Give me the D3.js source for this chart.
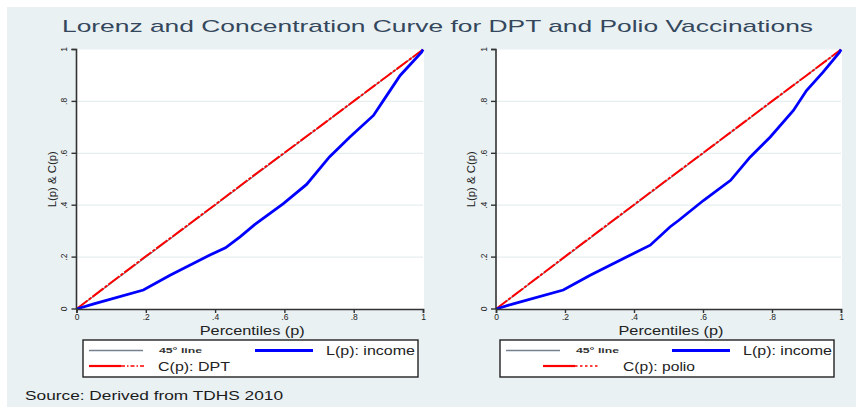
<!DOCTYPE html>
<html>
<head>
<meta charset="utf-8">
<script src="https://cdn.jsdelivr.net/npm/d3@7"></script>
<style>
  body { margin: 0; background: #fff; }
  svg { display: block; font-family: "Liberation Sans", Arial, sans-serif; }
</style>
</head>
<body>
<div id="chart"></div>
<script>
// Percentiles and curve values
const ticks = [0, 0.2, 0.4, 0.6, 0.8, 1];
const tickLabels = ["0", ".2", ".4", ".6", ".8", "1"];

const dptIncomeP = [0, 0.05, 0.193, 0.27, 0.385, 0.43, 0.472, 0.515, 0.597, 0.664, 0.73, 0.789, 0.857, 0.886, 0.934, 0.996, 1];
const dptIncomeL = [0, 0.02, 0.073, 0.13, 0.208, 0.236, 0.278, 0.326, 0.406, 0.48, 0.586, 0.663, 0.746, 0.804, 0.9, 0.99, 1];
const dptP = [0, 0.1, 0.2, 0.3, 0.4, 0.5, 0.6, 0.7, 0.8, 0.9, 1];
const dptC = [0, 0.102, 0.203, 0.302, 0.402, 0.503, 0.602, 0.701, 0.801, 0.901, 1];

const polioIncomeP = [0, 0.05, 0.195, 0.273, 0.4, 0.447, 0.505, 0.53, 0.602, 0.68, 0.737, 0.795, 0.862, 0.9, 0.948, 0.996, 1];
const polioIncomeL = [0, 0.02, 0.073, 0.13, 0.215, 0.246, 0.317, 0.342, 0.419, 0.496, 0.586, 0.663, 0.765, 0.842, 0.913, 0.99, 1];
const polioP = [0, 0.1, 0.2, 0.3, 0.4, 0.5, 0.6, 0.7, 0.8, 0.9, 1];
const polioC = [0, 0.101, 0.202, 0.302, 0.402, 0.502, 0.601, 0.701, 0.801, 0.9, 1];

const width = 856, height = 407;
const svg = d3.select('#chart').append('svg')
  .attr('width', width)
  .attr('height', height);

// graph region background
svg.append('rect')
  .attr('x', 7).attr('y', 7)
  .attr('width', width - 7).attr('height', height - 7)
  .attr('fill', '#e9f1f3');

svg.append('text')
  .attr('x', 62).attr('y', 32)
  .attr('textLength', 751)
  .attr('lengthAdjust', 'spacingAndGlyphs')
  .style('font-size', '17px')
  .style('fill', '#34475c')
  .text('Lorenz and Concentration Curve for DPT and Polio Vaccinations');

svg.append('text')
  .attr('x', 25).attr('y', 400)
  .attr('textLength', 258)
  .attr('lengthAdjust', 'spacingAndGlyphs')
  .style('font-size', '12.5px')
  .style('fill', '#1b1b1b')
  .text('Source: Derived from TDHS 2010');

function drawPanel(opts) {
  const x = d3.scaleLinear().domain([0, 1]).range([opts.x0, opts.x1]);
  const y = d3.scaleLinear().domain([0, 1]).range([309, 49.5]);
  const g = svg.append('g');

  // plot region
  g.append('rect')
    .attr('x', x(0)).attr('y', y(1))
    .attr('width', x(1) - x(0) + 1).attr('height', y(0) - y(1))
    .attr('fill', '#fff');

  // gridlines
  g.selectAll('line.grid')
    .data(ticks.slice(1, 5))
    .enter().append('line')
      .attr('x1', x(0)).attr('x2', x(1))
      .attr('y1', d => y(d)).attr('y2', d => y(d))
      .style('stroke', '#e6eef0')
      .style('stroke-width', 1.2);

  // 45 degree line
  const line = d3.line().x(d => x(d[0])).y(d => y(d[1]));
  g.append('path')
    .attr('d', line([[0, 0], [1, 1]]))
    .style('fill', 'none')
    .style('stroke', '#75818f')
    .style('stroke-width', 1.2);

  // concentration curve
  g.append('path')
    .attr('d', line(d3.zip(opts.cP, opts.cV)))
    .style('fill', 'none')
    .style('stroke', '#ff0000')
    .style('stroke-width', 2)
    .style('stroke-dasharray', '14,1.5,3,1.5');

  // lorenz curve
  g.append('path')
    .attr('d', line(d3.zip(opts.lP, opts.lV)))
    .style('fill', 'none')
    .style('stroke', '#0000ff')
    .style('stroke-width', 2.8);

  // axes
  const yAxis = d3.axisLeft(y).tickValues(ticks).tickFormat((d, i) => tickLabels[i]).tickSize(5).tickPadding(10);
  const yG = g.append('g')
    .attr('transform', `translate(${x(0)},0)`)
    .call(yAxis);
  yG.selectAll('text')
    .attr('transform', function (d) { return `rotate(-90, ${-12}, ${y(d)})`; })
    .attr('x', -12).attr('y', d => y(d)).attr('dy', '0.32em')
    .style('text-anchor', 'middle');
  yG.selectAll('.tick').attr('transform', null);
  yG.selectAll('.tick line').attr('y1', d => y(d)).attr('y2', d => y(d));

  const xAxis = d3.axisBottom(x).tickValues(ticks).tickFormat((d, i) => tickLabels[i]).tickSize(4).tickPadding(1);
  const xG = g.append('g')
    .attr('transform', `translate(0,${y(0)})`)
    .call(xAxis);

  [yG, xG].forEach(a => {
    a.select('.domain').style('stroke', '#333').style('stroke-width', 1.6);
    a.selectAll('.tick line').style('stroke', '#333').style('stroke-width', 1.4);
    a.selectAll('text').style('font-size', '8.5px').style('fill', '#222').style('font-family', '"Liberation Sans", Arial, sans-serif');
  });
  yG.select('.domain').attr('d', `M-5,${y(1)}H0V${y(0)}`);

  // axis titles
  g.append('text')
    .attr('x', (x(0) + x(1)) / 2 - 50).attr('y', 335)
    .attr('textLength', 105)
    .attr('lengthAdjust', 'spacingAndGlyphs')
    .style('font-size', '12px')
    .style('fill', '#222')
    .text('Percentiles (p)');

  const yt = (y(0) + y(1)) / 2;
  g.append('text')
    .attr('transform', `translate(${x(0) - 21},${yt}) rotate(-90)`)
    .attr('text-anchor', 'middle')
    .attr('textLength', 56)
    .attr('lengthAdjust', 'spacingAndGlyphs')
    .style('font-size', '10.5px')
    .style('fill', '#222')
    .text('L(p) & C(p)');

  // legend
  const lg = g.append('g');
  lg.append('rect')
    .attr('x', opts.lx0).attr('y', 340)
    .attr('width', opts.lx1 - opts.lx0).attr('height', 37)
    .style('fill', '#fff')
    .style('stroke', '#222')
    .style('stroke-width', 1.4);

  lg.append('line')
    .attr('x1', opts.lx0 + 6).attr('x2', opts.lx0 + 60)
    .attr('y1', 350.5).attr('y2', 350.5)
    .style('stroke', '#75818f').style('stroke-width', 1.4);
  lg.append('text')
    .attr('x', opts.lx0 + 76).attr('y', 353)
    .attr('textLength', 43).attr('lengthAdjust', 'spacingAndGlyphs')
    .style('font-size', '8px').style('font-weight', 'bold').style('fill', '#333')
    .text('45° line');

  lg.append('line')
    .attr('x1', opts.lx0 + 172).attr('x2', opts.lx0 + 230)
    .attr('y1', 350.5).attr('y2', 350.5)
    .style('stroke', '#0000ff').style('stroke-width', 2.8);
  lg.append('text')
    .attr('x', opts.lx0 + 243).attr('y', 355)
    .attr('textLength', 89).attr('lengthAdjust', 'spacingAndGlyphs')
    .style('font-size', '12px').style('fill', '#222')
    .text('L(p): income');

  lg.append('line')
    .attr('x1', opts.rx).attr('x2', opts.rx + 32)
    .attr('y1', 366).attr('y2', 366)
    .style('stroke', '#ff0000').style('stroke-width', 2.2);
  lg.append('line')
    .attr('x1', opts.rx + 32).attr('x2', opts.rx + 56)
    .attr('y1', 366).attr('y2', 366)
    .style('stroke', '#ff0000').style('stroke-width', 1.6)
    .style('stroke-dasharray', opts.dash);
  lg.append('text')
    .attr('x', opts.rtx).attr('y', 371)
    .attr('textLength', opts.rtw).attr('lengthAdjust', 'spacingAndGlyphs')
    .style('font-size', '12px').style('fill', '#222')
    .text(opts.cLabel);
}

drawPanel({
  x0: 76.5, x1: 423,
  lP: dptIncomeP, lV: dptIncomeL, cP: dptP, cV: dptC,
  lx0: 83, lx1: 418,
  rx: 89, rtx: 158, rtw: 72, dash: '4,2,1.5,2',
  cLabel: 'C(p): DPT'
});

drawPanel({
  x0: 496, x1: 841,
  lP: polioIncomeP, lV: polioIncomeL, cP: polioP, cV: polioC,
  lx0: 500, lx1: 834,
  rx: 543, rtx: 623, rtw: 72, dash: '2.5,2.5',
  cLabel: 'C(p): polio'
});
</script>
</body>
</html>
